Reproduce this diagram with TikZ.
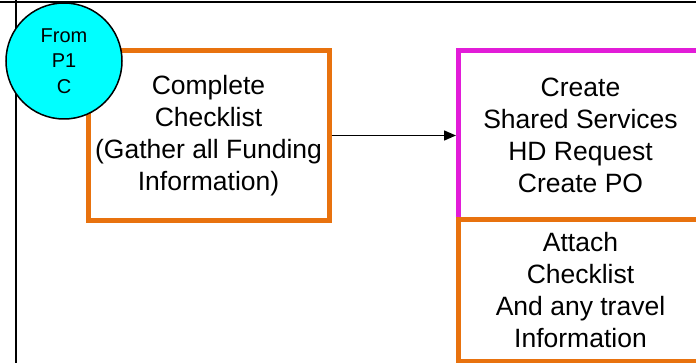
\documentclass[tikz,border=0pt]{standalone}
\usepackage{fontspec}
\setmainfont{Liberation Sans}
\usetikzlibrary{arrows.meta}
\definecolor{boxorange}{RGB}{232,114,14}
\definecolor{boxmagenta}{RGB}{226,28,216}
\definecolor{circcyan}{RGB}{0,255,255}
\tikzset{
  procbox/.style={draw, line width=5pt, fill=white, align=center, inner sep=0pt,
    font=\fontsize{26.5}{32}\selectfont},
  conn/.style={draw, line width=1.5pt, -{Triangle[length=12pt,width=10pt]}},
  offpage/.style={circle, draw, line width=1.5pt, fill=circcyan, minimum size=116pt,
    inner sep=0pt, align=center, font=\fontsize{20}{25.5}\selectfont},
  lane/.style={line width=2pt}
}
\begin{document}
\begin{tikzpicture}[x=1pt,y=-1pt]
\useasboundingbox (0,0) rectangle (696,363);
\fill[white] (0,0) rectangle (696,363);
\coordinate (tl) at (0,2.5);
\coordinate (tr) at (696,2.5);
\coordinate (vt) at (15.5,0);
\coordinate (vb) at (15.5,363);
\draw[lane] (tl) -- (tr);
\draw[lane] (vt) -- (vb);
\node[procbox, draw=boxorange, minimum width=241pt, minimum height=170pt] (b1) at (208.5,135.5) {Complete\\Checklist\\(Gather all Funding\\Information)};
\node[procbox, draw=boxmagenta, minimum width=244pt, minimum height=169pt] (b2) at (580.5,135.5) {Create\\Shared Services\\HD Request\\Create PO};
\node[procbox, draw=boxorange, minimum width=244pt, minimum height=141pt] (b3) at (580.5,290.5) {Attach\\Checklist\\And any travel\\Information};
\node[offpage] (c1) at (64,61) {From\\P1\\C};
\draw[conn] (b1.east) -- (b2.west);
\end{tikzpicture}
\end{document}
